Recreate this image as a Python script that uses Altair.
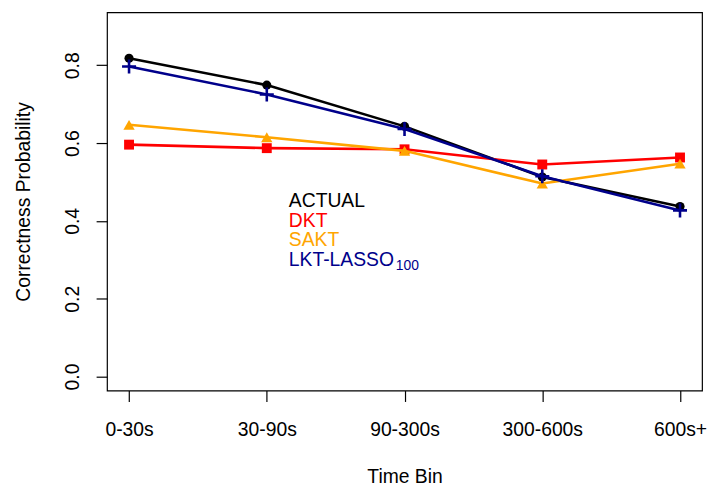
import altair as alt
import pandas as pd

# ---- data ----
bins = ["0-30s", "30-90s", "90-300s", "300-600s", "600s+"]
bin_pos = [1, 2, 3, 4, 5]
actual = [0.818, 0.749, 0.643, 0.513, 0.437]
dkt = [0.596, 0.587, 0.584, 0.545, 0.563]
sakt = [0.647, 0.615, 0.580, 0.496, 0.547]
lkt = [0.797, 0.725, 0.636, 0.515, 0.427]

series_names = ["ACTUAL", "DKT", "SAKT", "LKT-LASSO"]
series_values = [actual, dkt, sakt, lkt]
series_colors = ["#000000", "#FF0000", "#FFA500", "#00008B"]
series_shapes = ["circle", "square", "triangle-up", "M-1,0L1,0M0,-1L0,1"]
series_sizes = [85, 100, 130, 200]
y_ticks = [0.0, 0.2, 0.4, 0.6, 0.8]

FONT = "Liberation Sans"
FS = 19.5

label_expr = "[" + ",".join("'%s'" % b for b in bins) + "][datum.value - 1]"

x_enc = alt.X(
    "pos:Q",
    scale=alt.Scale(domain=[0.84, 5.16], nice=False, zero=False),
    axis=alt.Axis(
        values=bin_pos, labelExpr=label_expr, title="Time Bin",
        grid=False, domain=False,
        tickSize=11, labelPadding=19, labelFontSize=FS, labelFont=FONT,
        titleFont=FONT, titleFontSize=FS, titleFontWeight="normal",
        titleY=93, titleBaseline="alphabetic", labelFlush=False,
    ),
)
y_enc = alt.Y(
    "val:Q",
    scale=alt.Scale(domain=[-0.036, 0.936], nice=False, zero=False),
    axis=alt.Axis(
        values=y_ticks, format=".1f", title="Correctness Probability",
        grid=False, domain=False,
        tickSize=11, labelPadding=14, labelAngle=270, labelAlign="center",
        labelBaseline="bottom", labelFontSize=FS, labelFont=FONT,
        titleFont=FONT, titleFontSize=FS, titleFontWeight="normal",
        titleAngle=270, titleX=-78, titleY=191, titleBaseline="alphabetic",
        titleAlign="center", labelFlush=False,
    ),
)

layers = []
for name, vals, col, shp, sz in zip(series_names, series_values, series_colors,
                                    series_shapes, series_sizes):
    df = pd.DataFrame({"pos": bin_pos, "val": vals, "series": name})
    base = alt.Chart(df).encode(x=x_enc, y=y_enc)
    layers.append(base.mark_line(color=col, strokeWidth=2.6))
    if shp.startswith("M"):
        layers.append(base.mark_point(shape=shp, size=sz, color=col,
                                      filled=False, strokeWidth=2.6, opacity=1))
    else:
        layers.append(base.mark_point(shape=shp, size=sz, color=col,
                                      filled=True, opacity=1))

# legend (text only, coloured), placed in data units
legend_x = 2.16
legend_top = 0.45
legend_step = 0.05
leg_df = pd.DataFrame({
    "pos": [legend_x] * len(series_names),
    "val": [legend_top - i * legend_step for i in range(len(series_names))],
    "series": series_names,
})
leg = alt.Chart(leg_df).mark_text(
    align="left", baseline="middle", font=FONT, fontSize=FS
).encode(
    x=x_enc, y=y_enc, text="series:N",
    color=alt.Color("series:N", scale=alt.Scale(domain=series_names,
                                                 range=series_colors),
                    legend=None),
)
sub_df = pd.DataFrame({"pos": [legend_x],
                       "val": [legend_top - 3 * legend_step],
                       "t": ["100"]})
sub = alt.Chart(sub_df).mark_text(
    align="left", baseline="middle", font=FONT, fontSize=14,
    color=series_colors[3], dx=108, dy=6
).encode(x=x_enc, y=y_enc, text="t:N")

chart = alt.layer(*layers, leg, sub).properties(
    width=601, height=382,
    background="white",
    autosize=alt.AutoSizeParams(type="none"),
    padding={"left": 100, "top": 2, "right": 5, "bottom": 94},
).configure_view(
    stroke="#000000", strokeWidth=1.2
).configure_axis(
    grid=False, domain=False, tickColor="#000000", labelColor="#000000",
    titleColor="#000000", tickWidth=1.2
)

chart.save("out.html", embed_options={"renderer": "svg", "actions": False})
